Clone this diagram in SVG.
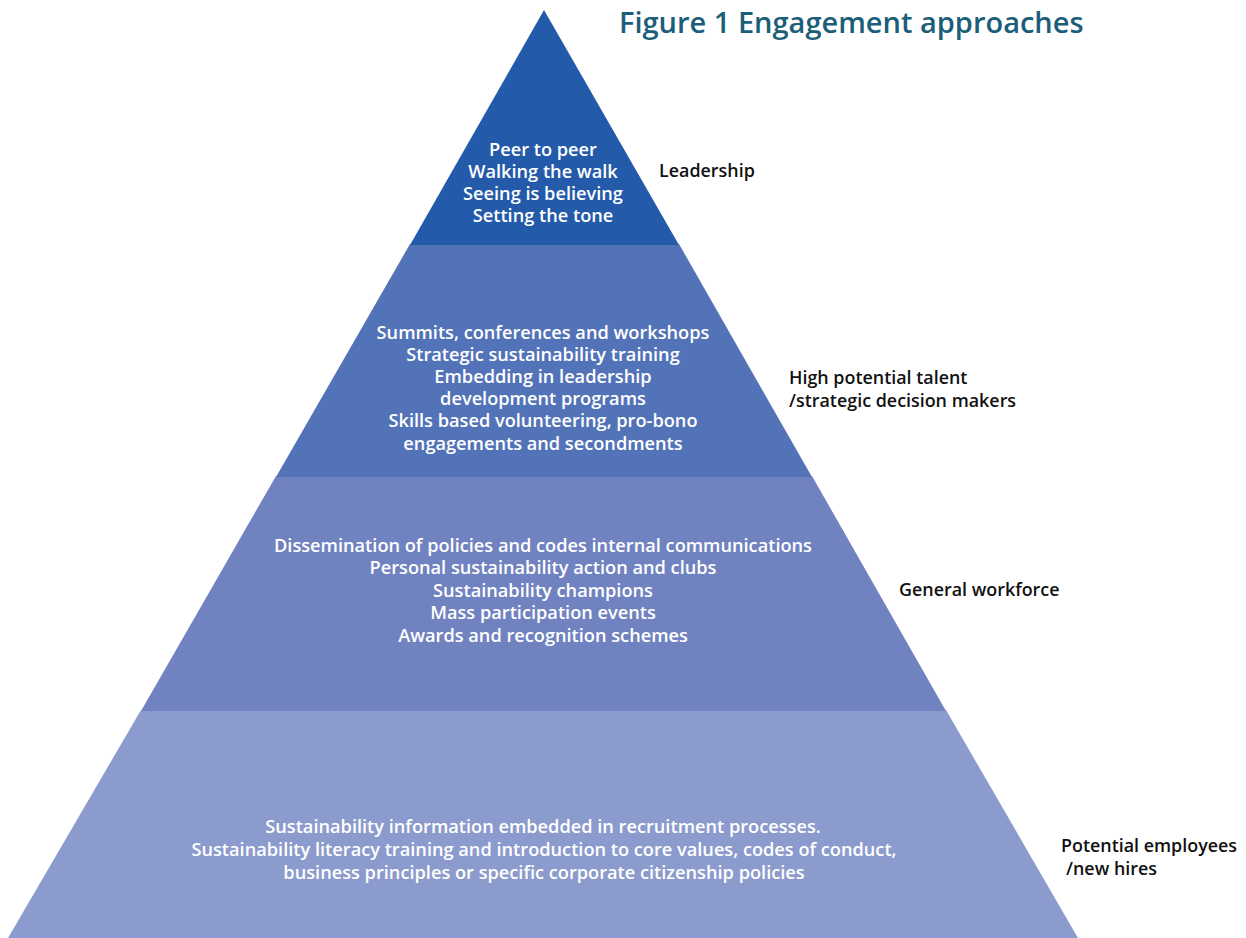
<svg xmlns="http://www.w3.org/2000/svg" width="1246" height="938" viewBox="0 0 1246 938">
<style>
.t{font-family:"Open Sans","Liberation Sans",sans-serif;font-size:18.2px;font-weight:600;fill:#ffffff;text-anchor:middle}
.l{font-family:"Open Sans","Liberation Sans",sans-serif;font-size:17.9px;font-weight:600;fill:#111111}
.title{font-family:"Open Sans","Liberation Sans",sans-serif;font-size:29px;font-weight:600;fill:#1b5e79}
</style>
<rect width="1246" height="938" fill="#ffffff"/>
<g id="title"><text class="title" x="619" y="33">Figure 1 Engagement approaches</text></g>
<g id="tier4">
<polygon points="141,710 946,710 1078,938 8,938" fill="#8c9bcd"/>
<text class="t" font-weight="500" x="543" y="833">Sustainability information embedded in recruitment processes.</text>
<text class="t" font-weight="500" x="544" y="856">Sustainability literacy training and introduction to core values, codes of conduct,</text>
<text class="t" font-weight="500" x="544" y="879">business principles or specific corporate citizenship policies</text>
</g>
<g id="tier3">
<polygon points="276,476 812,476 946,711 141,711" fill="#7083c0"/>
<text class="t" x="543" y="552">Dissemination of policies and codes internal communications</text>
<text class="t" x="543" y="574">Personal sustainability action and clubs</text>
<text class="t" x="543" y="597">Sustainability champions</text>
<text class="t" x="543" y="619">Mass participation events</text>
<text class="t" x="543" y="642">Awards and recognition schemes</text>
</g>
<g id="tier2">
<polygon points="410,244 679,244 812,477 276,477" fill="#5373b8"/>
<text class="t" x="543" y="339">Summits, conferences and workshops</text>
<text class="t" x="543" y="361">Strategic sustainability training</text>
<text class="t" x="543" y="383">Embedding in leadership</text>
<text class="t" x="543" y="405">development programs</text>
<text class="t" x="543" y="427">Skills based volunteering, pro-bono</text>
<text class="t" x="543" y="450">engagements and secondments</text>
</g>
<g id="tier1">
<polygon points="544,10 679,245 410,245" fill="#235aaa"/>
<text class="t" x="543" y="156">Peer to peer</text>
<text class="t" x="543" y="178">Walking the walk</text>
<text class="t" x="543" y="200">Seeing is believing</text>
<text class="t" x="543" y="222">Setting the tone</text>
</g>
<g id="labels">
<text class="l" x="659" y="177">Leadership</text>
<text class="l" x="789" y="384">High potential talent</text>
<text class="l" x="789" y="407">/strategic decision makers</text>
<text class="l" x="899" y="596">General workforce</text>
<text class="l" x="1061" y="852">Potential employees</text>
<text class="l" x="1066" y="875">/new hires</text>
</g>
<g id="connectors"></g>
</svg>
